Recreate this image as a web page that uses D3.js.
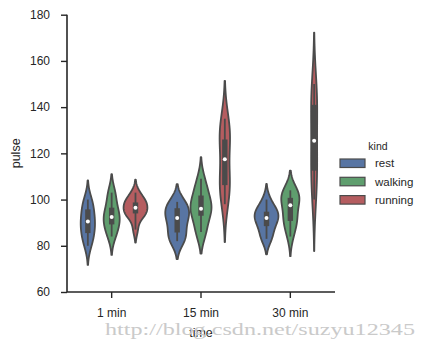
<!DOCTYPE html>
<html><head><meta charset="utf-8">
<script src="https://cdn.jsdelivr.net/npm/d3@7"></script>
<style>body{margin:0;background:#fff}svg{display:block}text{font-family:"Liberation Sans",Arial,sans-serif}</style>
</head><body><svg id="c" width="428" height="349"></svg>
<script>
const times = ["1 min", "15 min", "30 min"];
const kinds = ["rest", "walking", "running"];
// pulse observations per time (1, 15, 30 min)
const restPulse = [
  [85, 90, 97, 80, 91, 83, 87, 92, 97, 100],
  [85, 92, 97, 82, 92, 83, 88, 94, 99, 97],
  [88, 93, 94, 83, 91, 84, 90, 95, 96, 100]
];
const walkingPulse = [
  [86, 93, 90, 95, 89, 84, 103, 92, 97, 102],
  [86, 103, 92, 96, 96, 86, 109, 96, 98, 104],
  [84, 104, 93, 100, 95, 89, 90, 101, 100, 103]
];
const runningPulse = [
  [93, 98, 98, 87, 94, 95, 100, 103, 94, 99],
  [98, 104, 105, 132, 110, 126, 126, 124, 135, 111],
  [100, 106, 111, 117, 121, 130, 138, 142, 146, 150]
];
const yTicks = [60, 80, 100, 120, 140, 160, 180];
const colors = ["#5875a3", "#5f9e6e", "#b55d60"];
const gray = "#4b4b4b";
const ink = "#262626";

const svg = d3.select("#c");
const L = 67, R = 335, T = 14.7, B = 292;
const x = d3.scaleBand().domain(times).range([L, R]).padding(0);
const y = d3.scaleLinear().domain([60, 180]).range([B, T]);
const unit = x.bandwidth();
const dwidth = 0.8 / 6;

const groups = [restPulse, walkingPulse, runningPulse];

function percentile(s, p) {
  const i = (s.length - 1) * p, lo = Math.floor(i), hi = Math.ceil(i);
  return s[lo] + (s[hi] - s[lo]) * (i - lo);
}
function kde(data) {
  const n = data.length;
  const sd = d3.deviation(data);
  const bw = Math.pow(n, -0.2) * sd;
  const lo = d3.min(data) - 2 * bw, hi = d3.max(data) + 2 * bw;
  const support = d3.range(100).map(i => lo + (hi - lo) * i / 99);
  const dens = support.map(s => d3.sum(data, v => Math.exp(-0.5 * ((s - v) / bw) ** 2)) / (n * bw * Math.sqrt(2 * Math.PI)));
  return { support, dens };
}

const plot = svg.append("g");
times.forEach((t, ti) => {
  const ks = kinds.map((k, ki) => kde(groups[ki][ti]));
  const mx = d3.max(ks, k => d3.max(k.dens));
  kinds.forEach((k, ki) => {
    const data = groups[ki][ti];
    const { support, dens } = ks[ki];
    const cx = x(t) + unit / 2 + (ki - 1) * (0.8 / 3) * unit;
    const pts = support.map((s, i) => [s, dens[i] / mx * dwidth * unit]);
    const area = d3.area().y(d => y(d[0])).x0(d => cx - d[1]).x1(d => cx + d[1]).curve(d3.curveLinear);
    plot.append("path").attr("d", area(pts)).attr("fill", colors[ki])
      .attr("stroke", gray).attr("stroke-width", 1.8).attr("stroke-linejoin", "round");
    const s = data.slice().sort((a, b) => a - b);
    const q1 = percentile(s, .25), q2 = percentile(s, .5), q3 = percentile(s, .75);
    const lim = 1.5 * (q3 - q1);
    const h1 = d3.min(s.filter(v => v >= q1 - lim)), h2 = d3.max(s.filter(v => v <= q3 + lim));
    plot.append("line").attr("x1", cx).attr("x2", cx).attr("y1", y(h1)).attr("y2", y(h2))
      .attr("stroke", gray).attr("stroke-width", 1.8);
    plot.append("line").attr("x1", cx).attr("x2", cx).attr("y1", y(q1)).attr("y2", y(q3))
      .attr("stroke", gray).attr("stroke-width", 5.4);
    plot.append("circle").attr("cx", cx).attr("cy", y(q2)).attr("r", 2).attr("fill", "#fff");
  });
});

// axes
const ya = svg.append("g").attr("transform", `translate(${L},0)`)
  .call(d3.axisLeft(y).tickValues(yTicks).tickSize(6).tickPadding(11).tickFormat(d3.format("d")));
const xa = svg.append("g").attr("transform", `translate(0,${B})`)
  .call(d3.axisBottom(x).tickSize(6).tickPadding(10));
[ya, xa].forEach(a => {
  a.select(".domain").attr("stroke", ink).attr("stroke-width", 1.6);
  a.selectAll(".tick line").attr("stroke", ink).attr("stroke-width", 1.4);
  a.selectAll(".tick text").attr("fill", ink).attr("font-size", 12);
});
ya.select(".domain").attr("d", `M-0,${T}V${B}`);
xa.select(".domain").attr("d", `M${L},0H${R}`);

svg.append("text").attr("transform", `translate(20,${(T + B) / 2}) rotate(-90)`)
  .attr("text-anchor", "middle").attr("fill", ink).attr("font-size", 12.5).text("pulse");
svg.append("text").attr("x", x("15 min") + unit / 2).attr("y", 337)
  .attr("text-anchor", "middle").attr("fill", ink).attr("font-size", 12.5).text("time");

// legend
const lg = svg.append("g");
lg.append("text").attr("x", 378).attr("y", 150).attr("text-anchor", "middle")
  .attr("fill", ink).attr("font-size", 10.5).text("kind");
kinds.forEach((k, i) => {
  const yy = 159 + i * 18.3;
  lg.append("rect").attr("x", 340).attr("y", yy).attr("width", 25).attr("height", 8.5)
    .attr("fill", colors[i]).attr("stroke", gray).attr("stroke-width", 1.2);
  lg.append("text").attr("x", 375).attr("y", yy + 8.3).attr("fill", ink).attr("font-size", 11.5).text(k);
});

// watermark
svg.append("text").attr("x", 105).attr("y", 335).attr("fill", "#cacaca")
  .style("font-family", "'Liberation Serif', 'DejaVu Serif', serif").attr("font-size", 17.5)
  .attr("textLength", 310).attr("lengthAdjust", "spacingAndGlyphs")
  .text("http://blog.csdn.net/suzyu12345");
</script></body></html>
